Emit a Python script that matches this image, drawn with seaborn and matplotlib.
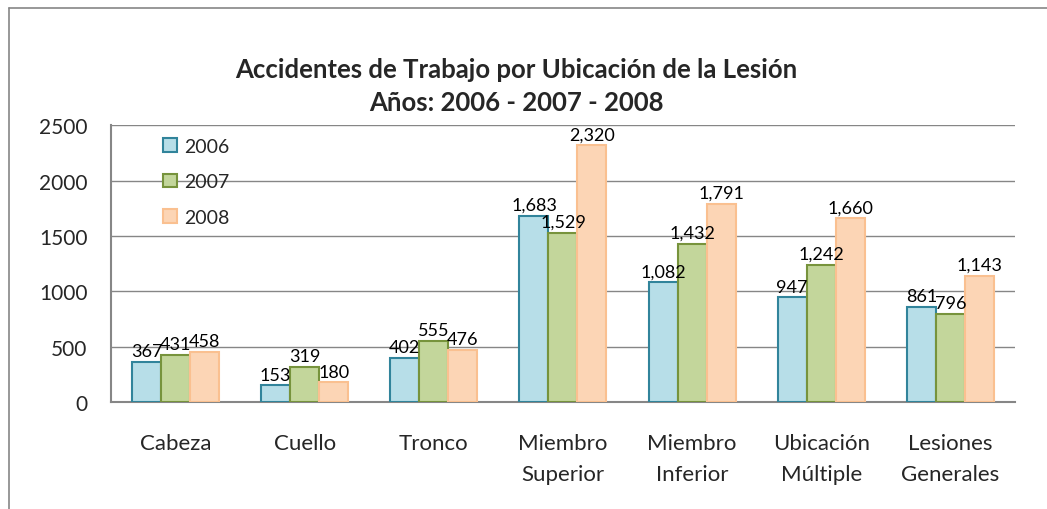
import pandas as pd
import matplotlib
matplotlib.use('Agg')
import matplotlib.pyplot as plt
from matplotlib.lines import Line2D
import seaborn as sns

# ── 데이터 ─────────────────────────────────────────────────────────────────
categories = ['Cabeza', 'Cuello', 'Tronco', 'Miembro\nSuperior', 'Miembro\nInferior',
              'Ubicación\nMúltiple', 'Lesiones\nGenerales']
years = ['2006', '2007', '2008']
v2006 = [367, 153, 402, 1683, 1082, 947, 861]
v2007 = [431, 319, 555, 1529, 1432, 1242, 796]
v2008 = [458, 180, 476, 2320, 1791, 1660, 1143]
yticks = [0, 500, 1000, 1500, 2000, 2500]

fills = ['#B7DEE8', '#C3D69B', '#FCD5B5']
edges = ['#31849B', '#77933C', '#FAC090']

df = pd.DataFrame({
    'cat': categories * 3,
    'year': [y for y in years for _ in categories],
    'val': v2006 + v2007 + v2008,
})

sns.set_style('white')
plt.rcParams['font.family'] = ['Lato', 'DejaVu Sans']

fig = plt.figure(figsize=(10.47, 5.10), dpi=100)
ax = fig.add_axes([0.106, 0.2092, 0.8634, 0.5432])

sns.barplot(data=df, x='cat', y='val', hue='year', palette=fills, width=0.674,
            saturation=1, ax=ax, zorder=3)

for cont, ec in zip(ax.containers, edges):
    for bar in cont:
        bar.set_edgecolor(ec)
        bar.set_linewidth(1.5)
    ax.bar_label(cont, labels=[f'{v:,.0f}' for v in cont.datavalues],
                 padding=2, fontsize=13, color='black', zorder=4)

ax.set_ylim(0, 2500)
ax.set_yticks(yticks)
ax.set_xlim(-0.5, len(categories) - 0.5)
ax.set_xlabel('')
ax.set_ylabel('')
ax.grid(axis='y', color='#868686', linewidth=1.0, zorder=0)
ax.set_axisbelow(True)
for s in ['top', 'right']:
    ax.spines[s].set_visible(False)
for s in ['left', 'bottom']:
    ax.spines[s].set_color('#868686')
    ax.spines[s].set_linewidth(1.5)
ax.tick_params(axis='y', length=0, pad=17, labelsize=15)
ax.tick_params(axis='x', length=0, pad=22, labelsize=16)
for t in ax.get_xticklabels():
    t.set_linespacing(1.7)
    t.set_va('top')

handles = [plt.Rectangle((0, 0), 1, 1, facecolor=f, edgecolor=e, linewidth=1.5)
           for f, e in zip(fills, edges)]
ax.legend(handles, years, loc='upper left', bbox_to_anchor=(0.058, 0.955),
          frameon=False, fontsize=14, handlelength=0.7, handleheight=0.7,
          handletextpad=0.35, labelspacing=0.95, borderpad=0, borderaxespad=0)

fig.text(0.493, 0.863, 'Accidentes de Trabajo por Ubicación de la Lesión',
         ha='center', va='center', fontsize=18.5, fontweight='bold')
fig.text(0.493, 0.798, 'Años: 2006 - 2007 - 2008',
         ha='center', va='center', fontsize=18.5, fontweight='bold')

# chart area border
fig.add_artist(Line2D([9 / 1047, 9 / 1047], [0, 1 - 9 / 510], color='#868686', lw=1.2,
                      transform=fig.transFigure))
fig.add_artist(Line2D([9 / 1047, 1], [1 - 9 / 510, 1 - 9 / 510], color='#868686', lw=1.2,
                      transform=fig.transFigure))

fig.savefig('out.png', dpi=100)
